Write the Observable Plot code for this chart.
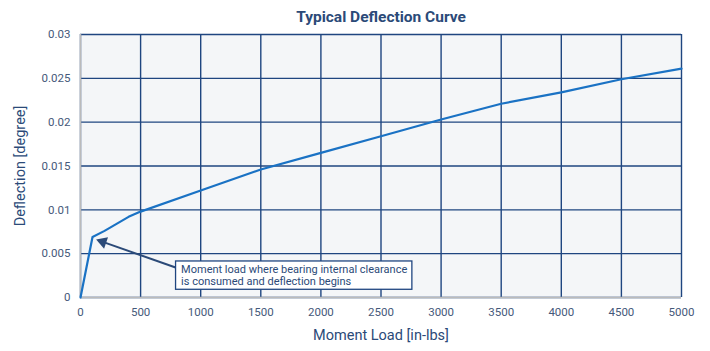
<!DOCTYPE html>
<html>
<head>
<meta charset="utf-8">
<script src="https://cdn.jsdelivr.net/npm/d3@7"></script>
<script src="https://cdn.jsdelivr.net/npm/@observablehq/plot@0.6"></script>
<style>
  html, body { margin: 0; padding: 0; background: #fff; }
  #chart svg { display: block; }
</style>
</head>
<body>
<div id="chart"></div>
<script>
// Data
const moment = [0, 100, 200, 300, 400, 500, 1000, 1500, 2000, 2500, 3000, 3500, 4000, 4500, 5000];
const deflection = [0, 0.0069, 0.0076, 0.0084, 0.0092, 0.0098, 0.0122, 0.0146, 0.0165, 0.0184, 0.0203, 0.0221, 0.0234, 0.0249, 0.0261];
const xTicks = [0, 500, 1000, 1500, 2000, 2500, 3000, 3500, 4000, 4500, 5000];
const yTicks = [0, 0.005, 0.01, 0.015, 0.02, 0.025, 0.03];
const titleText = "Typical Deflection Curve";
const xLabel = "Moment Load [in-lbs]";
const yLabel = "Deflection [degree]";
const noteLines = ["Moment load where bearing internal clearance", "is consumed and deflection begins"];
// annotation anchor positions in data units
const noteArrow = [{x1: 791, y1: 0.00342, x2: 185, y2: 0.00635}];
const noteHead = [{x: 185, y: 0.00635}];
const noteBox = [{x1: 795, x2: 2761, y1: 0.00088, y2: 0.00411}];
const noteText = [{x: 837, y: 0.00255}];

const data = moment.map((m, i) => ({m, d: deflection[i]}));

const navy = "#1f4680";
const textCol = "#2b4a78";
const font = "Roboto, 'Open Sans', sans-serif";

const chart = Plot.plot({
  width: 710,
  height: 351,
  marginLeft: 80,
  marginRight: 29,
  marginTop: 34,
  marginBottom: 54,
  style: {fontFamily: font, fontSize: "11px", color: "#45597a", background: "#fff"},
  x: {domain: [0, 5000], label: null},
  y: {domain: [0, 0.03], label: null},
  marks: [
    Plot.frame({fill: "#f4f6f8", stroke: null}),
    Plot.gridX(xTicks, {stroke: navy, strokeOpacity: 1, strokeWidth: 1.4}),
    Plot.gridY(yTicks, {stroke: navy, strokeOpacity: 1, strokeWidth: 1.4}),
    Plot.ruleX([0], {stroke: "#bbbbbb", strokeWidth: 1.5}),
    Plot.ruleY([0], {stroke: "#bbbbbb", strokeWidth: 1.5}),
    Plot.axisX({ticks: xTicks, tickFormat: d => String(d), tickSize: 0, tickPadding: 10, label: null, fill: "#45597a", fontSize: 11.5}),
    Plot.axisY({ticks: yTicks, tickFormat: d => String(+d.toFixed(3)), tickSize: 0, tickPadding: 10, label: null, fill: "#45597a", fontSize: 11.5}),
    Plot.line(data, {x: "m", y: "d", stroke: "#1a72c4", strokeWidth: 2.2}),
    Plot.link(noteArrow, {x1: "x1", y1: "y1", x2: "x2", y2: "y2", stroke: textCol, strokeWidth: 2}),
    Plot.dot(noteHead, {x: "x", y: "y", symbol: "triangle", r: 4.5, rotate: -71, fill: textCol, stroke: null}),
    Plot.rect(noteBox, {x1: "x1", x2: "x2", y1: "y1", y2: "y2", fill: "#ffffff", stroke: navy, strokeWidth: 1.3}),
    Plot.text(noteText, {x: "x", y: "y", text: () => noteLines.join("\n"), textAnchor: "start", lineAnchor: "middle", lineHeight: 1.05, fontSize: 11, fill: textCol}),
    Plot.text([titleText], {frameAnchor: "top", dy: -17, lineAnchor: "middle", textAnchor: "middle", text: d => d, fontSize: 15.5, fontWeight: "bold", fill: textCol}),
    Plot.text([xLabel], {frameAnchor: "bottom", dy: 38, lineAnchor: "middle", textAnchor: "middle", text: d => d, fontSize: 14.5, fill: textCol}),
    Plot.text([yLabel], {frameAnchor: "left", dx: -60, rotate: -90, lineAnchor: "middle", textAnchor: "middle", text: d => d, fontSize: 14.5, fill: textCol})
  ]
});
document.getElementById("chart").appendChild(chart);
</script>
</body>
</html>
